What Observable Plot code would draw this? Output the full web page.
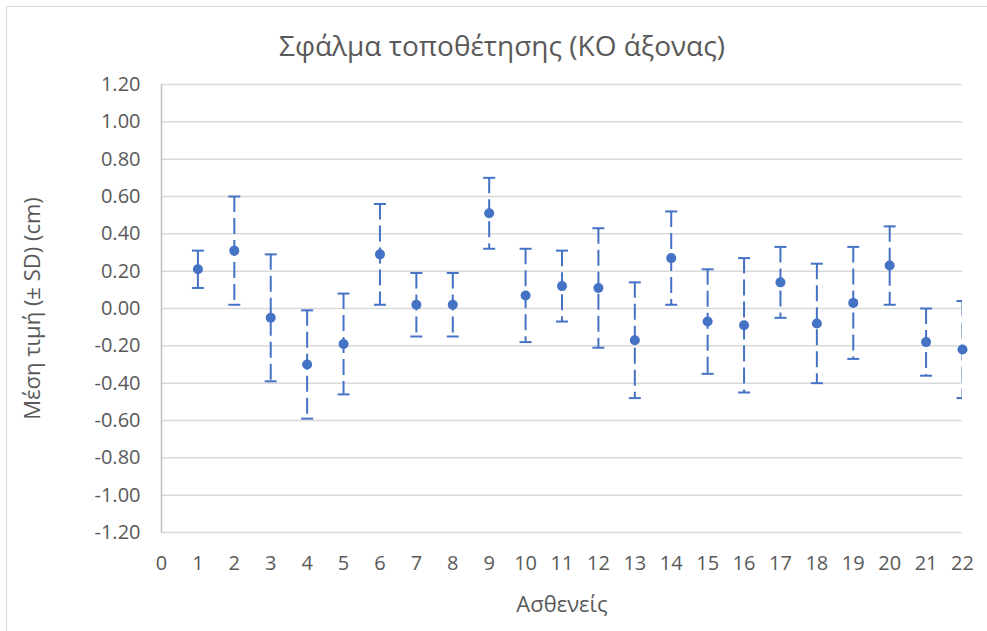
<!DOCTYPE html>
<html><head><meta charset="utf-8">
<script src="https://cdn.jsdelivr.net/npm/d3@7"></script>
<script src="https://cdn.jsdelivr.net/npm/@observablehq/plot@0.6"></script>
<style>
html,body{margin:0;padding:0;background:#fff;overflow:hidden;}
#wrap{position:relative;width:987px;height:631px;}
#border{position:absolute;left:6px;top:6px;width:1100px;height:1100px;border:1px solid #d9d9d9;pointer-events:none;}
</style></head><body><div id="wrap"><div id="border"></div></div>
<script>
const patients = [1,2,3,4,5,6,7,8,9,10,11,12,13,14,15,16,17,18,19,20,21,22];
const means = [0.21,0.31,-0.05,-0.30,-0.19,0.29,0.02,0.02,0.51,0.07,0.12,0.11,-0.17,0.27,-0.07,-0.09,0.14,-0.08,0.03,0.23,-0.18,-0.22];
const sds   = [0.10,0.29,0.34,0.29,0.27,0.27,0.17,0.17,0.19,0.25,0.19,0.32,0.31,0.25,0.28,0.36,0.19,0.32,0.30,0.21,0.18,0.26];
const yTicks = [-1.2,-1.0,-0.8,-0.6,-0.4,-0.2,0,0.2,0.4,0.6,0.8,1.0,1.2];
const xTicks = [0,1,2,3,4,5,6,7,8,9,10,11,12,13,14,15,16,17,18,19,20,21,22];
const titleText = "Σφάλμα τοποθέτησης (ΚΟ άξονας)";
const xLabel = "Ασθενείς";
const yLabel = "Μέση τιμή (± SD) (cm)";

const data = patients.map((p, i) => ({p, mean: means[i], hi: means[i] + sds[i], lo: means[i] - sds[i]}));
const blue = "#4472C4";
const cap = {draw(ctx) { ctx.moveTo(-6, 0); ctx.lineTo(6, 0); }};

const chart = Plot.plot({
  width: 987,
  height: 631,
  marginLeft: 161,
  marginRight: 25,
  marginTop: 84,
  marginBottom: 99,
  style: {fontFamily: "'Open Sans', sans-serif", fontSize: "20px", color: "#595959", background: "transparent", overflow: "visible"},
  x: {domain: [0, 22]},
  y: {domain: [-1.2, 1.2]},
  marks: [
    Plot.gridY(yTicks, {stroke: "#d9d9d9", strokeOpacity: 1, strokeWidth: 1.5}),
    Plot.ruleX([0], {stroke: "#bfbfbf", strokeWidth: 1.5}),
    Plot.axisY({ticks: yTicks, tickSize: 0, tickPadding: 21, tickFormat: d => d.toFixed(2), fontSize: 20,
      label: null, fill: "#595959"}),
    Plot.axisY({ticks: [], tickSize: 0, fontSize: 22,
      label: yLabel, labelAnchor: "center", labelArrow: "none", labelOffset: 137, fill: "#595959"}),
    Plot.axisX({ticks: xTicks, tickSize: 0, tickPadding: 23, tickFormat: d => String(d), fontSize: 20,
      label: null, fill: "#595959"}),
    Plot.axisX({ticks: [], tickSize: 0, fontSize: 22,
      label: xLabel, labelAnchor: "center", labelArrow: "none", labelOffset: 79, fill: "#595959"}),
    Plot.ruleX(data, {x: "p", y1: "hi", y2: "lo", stroke: blue, strokeWidth: 2, strokeDasharray: "16,6", clip: true}),
    Plot.dot(data, {x: "p", y: "hi", symbol: cap, stroke: blue, strokeWidth: 2, fill: "none", clip: true}),
    Plot.dot(data, {x: "p", y: "lo", symbol: cap, stroke: blue, strokeWidth: 2, fill: "none", clip: true}),
    Plot.dot(data, {x: "p", y: "mean", r: 5, fill: blue}),
    Plot.text([titleText], {frameAnchor: "top", dx: -60, dy: -48, fontSize: 28, fill: "#595959", text: d => d})
  ]
});
const wrap = document.getElementById("wrap");
chart.style.position = "absolute";
chart.style.left = "0";
chart.style.top = "0";
wrap.insertBefore(chart, wrap.firstChild);
</script></body></html>
